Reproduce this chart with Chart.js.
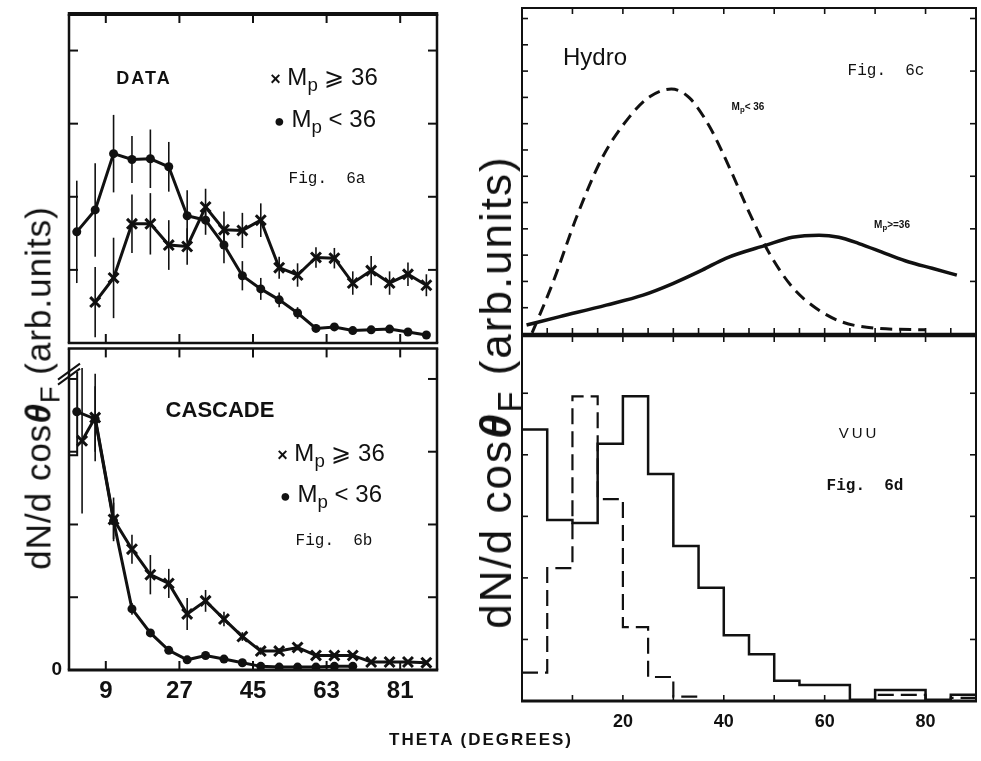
<!DOCTYPE html>
<html><head><meta charset="utf-8">
<script src="https://cdn.jsdelivr.net/npm/chart.js@4.4.1/dist/chart.umd.min.js"></script>
<style>
body{margin:0;background:#fff;width:981px;height:761px;position:relative;overflow:hidden;font-family:'Liberation Sans',Arial,sans-serif;color:#111}
canvas{position:absolute}
.t{position:absolute;white-space:pre;line-height:1;transform:translate(-50%,-50%);z-index:5}
sub{font-size:0.78em;vertical-align:-0.32em;line-height:0}
</style></head><body>
<canvas id="cA" width="450" height="350" style="left:0;top:0"></canvas>
<canvas id="cB" width="450" height="390" style="left:0;top:330px"></canvas>
<canvas id="cC" width="481" height="345" style="left:500px;top:0"></canvas>
<canvas id="cD" width="481" height="436" style="left:500px;top:325px"></canvas>

<div class="t" style="left:38px;top:388px;transform:translate(-50%,-50%) rotate(-90deg);font-size:35px;letter-spacing:1px">dN/d cos<b><i>θ</i></b><sub>F</sub> (arb.units)</div>
<div class="t" style="left:496px;top:392px;transform:translate(-50%,-50%) rotate(-90deg);font-size:44px;letter-spacing:2px">dN/d cos<b><i>θ</i></b><sub>F</sub> (arb.units)</div>

<div class="t" style="left:144px;top:78px;font-weight:bold;font-size:18px;letter-spacing:2px">DATA</div>
<div class="t" style="left:324px;top:77px;font-size:24px"><b style="font-size:18px">×</b> M<sub>p</sub> ⩾ 36</div>
<div class="t" style="left:325px;top:119px;font-size:24px"><span style="font-size:18px">●</span> M<sub>p</sub> &lt; 36</div>
<div class="t" style="left:327px;top:179px;font-family:'Liberation Mono',monospace;font-size:16px">Fig.  6a</div>

<div class="t" style="left:220px;top:410px;font-weight:bold;font-size:22px">CASCADE</div>
<div class="t" style="left:331px;top:453px;font-size:24px"><b style="font-size:18px">×</b> M<sub>p</sub> ⩾ 36</div>
<div class="t" style="left:331px;top:494px;font-size:24px"><span style="font-size:18px">●</span> M<sub>p</sub> &lt; 36</div>
<div class="t" style="left:334px;top:541px;font-family:'Liberation Mono',monospace;font-size:16px">Fig.  6b</div>

<div class="t" style="left:595px;top:57px;font-size:24px">Hydro</div>
<div class="t" style="left:886px;top:71px;font-family:'Liberation Mono',monospace;font-size:16px">Fig.  6c</div>
<div class="t" style="left:748px;top:107px;font-weight:bold;font-size:10px">M<sub>p</sub>&lt; 36</div>
<div class="t" style="left:892px;top:225px;font-weight:bold;font-size:10px">M<sub>p</sub>&gt;=36</div>

<div class="t" style="left:859px;top:432px;font-size:15px;letter-spacing:3px">VUU</div>
<div class="t" style="left:865px;top:486px;font-family:'Liberation Mono',monospace;font-size:16px;font-weight:bold">Fig.  6d</div>

<div class="t" style="left:481px;top:739px;font-weight:bold;font-size:17px;letter-spacing:2px">THETA (DEGREES)</div>

<script>
// ---------------- DATA ----------------
const leftTicks = [9, 27, 45, 63, 81];
const rightTicks = [20, 40, 60, 80];

// Fig 6a (DATA)
const thetaA = [1.9,6.4,10.9,15.4,19.9,24.4,28.9,33.4,37.9,42.4,46.9,51.4,55.9,60.4,64.9,69.4,73.9,78.4,82.9,87.4];
const dataLow = [1.52,1.82,2.59,2.51,2.52,2.41,1.74,1.68,1.34,0.92,0.74,0.59,0.41,0.20,0.22,0.17,0.18,0.19,0.15,0.11];
const dataLowErr = [0.70,0.64,0.53,0.32,0.40,0.34,0.35,0.20,0.25,0.20,0.15,0.10,0.08,0.05,0.05,0.05,0.05,0.05,0.05,0.05];
const thetaAHigh = [6.4,10.9,15.4,19.9,24.4,28.9,33.4,37.9,42.4,46.9,51.4,55.9,60.4,64.9,69.4,73.9,78.4,82.9,87.4];
const dataHigh = [0.56,0.89,1.63,1.63,1.34,1.32,1.86,1.55,1.54,1.68,1.03,0.93,1.17,1.16,0.82,0.99,0.82,0.94,0.79];
const dataHighErr = [0.48,0.55,0.40,0.42,0.34,0.25,0.25,0.25,0.24,0.23,0.15,0.16,0.14,0.14,0.16,0.20,0.16,0.16,0.15];

// Fig 6b (CASCADE)
const thetaBLow = [1.9,6.4,10.9,15.4,19.9,24.4,28.9,33.4,37.9,42.4,46.9,51.4,55.9,60.4,64.9,69.4];
const cascLow = [3.55,3.45,2.05,0.84,0.51,0.27,0.14,0.20,0.15,0.10,0.05,0.04,0.04,0.04,0.05,0.05];
const cascLowErr = [0,0.45,0.25,0.08,0.05,0.03,0.02,0.02,0.02,0.02,0.02,0.02,0.02,0.02,0.02,0.02];
const thetaBHigh = [3.2,6.4,10.9,15.4,19.9,24.4,28.9,33.4,37.9,42.4,46.9,51.4,55.9,60.4,64.9,69.4,73.9,78.4,82.9,87.4];
const cascHigh = [3.15,3.47,2.07,1.66,1.31,1.19,0.77,0.95,0.70,0.46,0.26,0.26,0.31,0.20,0.20,0.20,0.11,0.11,0.11,0.10];
const cascHighErr = [1.0,0.60,0.30,0.20,0.27,0.20,0.22,0.15,0.10,0.06,0.05,0.04,0.04,0.03,0.03,0.03,0.03,0.03,0.03,0.03];
const offscaleX = [0, 2, 2];
const offscaleY = [2.95, 2.95, 4.1];

// Fig 6c (Hydro)
const hydroHighX = [0.9,7.5,16.7,24,29.9,35.8,40.4,48.4,53.6,58.9,62.8,66.8,72.1,76.7,81.3,86.2];
const hydroHigh = [0.17,0.33,0.55,0.74,0.96,1.22,1.44,1.69,1.84,1.88,1.84,1.72,1.53,1.37,1.25,1.12];
const hydroLowX = [2,6.1,10.8,16,21.3,25.3,29.6,33.2,37.2,41.1,45.1,49,53.6,58.3,63.4,70.2,80];
const hydroLow = [0.02,0.97,2.22,3.37,4.13,4.51,4.66,4.49,3.94,3.17,2.30,1.54,0.89,0.49,0.23,0.11,0.08];

// Fig 6d (VUU) histograms, 5-degree bins
const binEdges = [0,5,10,15,20,25,30,35,40,45,50,55,60,65,70,75,80,85,90];
const vuuHigh = [4.41,2.94,2.89,4.18,4.95,3.69,2.52,1.84,1.07,0.76,0.33,0.26,0.26,0.02,0.18,0.18,0.02,0.10];
const vuuLow = [0.46,2.16,4.95,3.28,1.20,0.39,0.07,0,0,0,0,0,0,0,0.10,0.10,0,0.05];

// ---------------- HELPERS ----------------
Chart.defaults.animation = false;
Chart.defaults.color = '#111';
Chart.defaults.font.family = "'Liberation Sans', Arial, sans-serif";
const INK = '#111';
const pts = (xs, ys) => xs.map((x, i) => ({x, y: ys[i]}));
const hist = (edges, vals) => edges.map((e, i) => ({x: e, y: vals[Math.min(i, vals.length - 1)]}));

function framePlugin(cfg) {
  return {
    id: 'frame',
    afterDatasetsDraw(chart) {
      const {ctx, chartArea: a} = chart;
      const xs = chart.scales.x, ys = chart.scales.y;
      ctx.save();
      ctx.strokeStyle = INK;
      const seg = (x1, y1, x2, y2, w) => { ctx.lineWidth = w; ctx.beginPath(); ctx.moveTo(x1, y1); ctx.lineTo(x2, y2); ctx.stroke(); };
      const b = cfg.border;
      seg(a.left - b.l / 2, a.top, a.right + b.r / 2, a.top, b.t);
      seg(a.left - b.l / 2, a.bottom, a.right + b.r / 2, a.bottom, b.b);
      seg(a.left, a.top, a.left, a.bottom, b.l);
      seg(a.right, a.top, a.right, a.bottom, b.r);
      (cfg.xTop || []).forEach(v => { const p = xs.getPixelForValue(v); seg(p, a.top, p, a.top + cfg.tl, cfg.tw); });
      (cfg.xBottom || []).forEach(v => { const p = xs.getPixelForValue(v); seg(p, a.bottom, p, a.bottom - cfg.tl, cfg.tw); });
      (cfg.yLeft || []).forEach(v => { const p = ys.getPixelForValue(v); seg(a.left, p, a.left + cfg.tl, p, cfg.tw); });
      (cfg.yRight || []).forEach(v => { const p = ys.getPixelForValue(v); seg(a.right, p, a.right - cfg.tl, p, cfg.tw); });
      if (cfg.breakAt !== undefined) {
        const y = ys.getPixelForValue(cfg.breakAt), x = a.left;
        ctx.lineWidth = 2;
        [0, 5].forEach(d => { ctx.beginPath(); ctx.moveTo(x - 11, y + 8 + d); ctx.lineTo(x + 11, y - 8 + d); ctx.stroke(); });
      }
      ctx.restore();
    }
  };
}
function errPlugin(list) {
  return {
    id: 'errbars',
    afterDatasetsDraw(chart) {
      const {ctx} = chart; const ys = chart.scales.y;
      ctx.save(); ctx.strokeStyle = INK; ctx.lineWidth = 1.6;
      list.forEach(({ds, err}) => {
        const meta = chart.getDatasetMeta(ds);
        const data = chart.data.datasets[ds].data;
        meta.data.forEach((el, i) => {
          const e = err[i]; if (!e) return;
          const v = data[i].y;
          ctx.beginPath();
          ctx.moveTo(el.x, ys.getPixelForValue(v + e));
          ctx.lineTo(el.x, ys.getPixelForValue(Math.max(0, v - e)));
          ctx.stroke();
        });
      });
      ctx.restore();
    }
  };
}
const hiddenAxis = (min, max) => ({type: 'linear', min, max, display: false});
const baseOpts = (padding, scales) => ({
  responsive: false, animation: false,
  layout: {padding, autoPadding: false},
  plugins: {legend: {display: false}, tooltip: {enabled: false}},
  scales
});
const crossDs = (data) => ({data, borderColor: INK, borderWidth: 3, pointStyle: 'crossRot', pointRadius: 7, pointBorderWidth: 3, pointBorderColor: INK, pointBackgroundColor: INK, tension: 0});
const dotDs = (data) => ({data, borderColor: INK, borderWidth: 3, pointStyle: 'circle', pointRadius: 4.5, pointBorderWidth: 0, pointBackgroundColor: INK, tension: 0});

// ---------------- FIG 6a ----------------
new Chart(document.getElementById('cA'), {
  type: 'line',
  data: {datasets: [dotDs(pts(thetaA, dataLow)), crossDs(pts(thetaAHigh, dataHigh))]},
  options: baseOpts({left: 69, top: 14, right: 13, bottom: 7}, {x: hiddenAxis(0, 90), y: hiddenAxis(0, 4.5)}),
  plugins: [errPlugin([{ds: 0, err: dataLowErr}, {ds: 1, err: dataHighErr}]),
            framePlugin({border: {t: 4, b: 2.5, l: 2.5, r: 2.5}, tl: 9, tw: 2, xTop: leftTicks, xBottom: leftTicks, yLeft: [1, 2, 3, 4], yRight: [1, 2, 3, 4]})]
});

// ---------------- FIG 6b ----------------
new Chart(document.getElementById('cB'), {
  type: 'line',
  data: {datasets: [dotDs(pts(thetaBLow, cascLow)), crossDs(pts(thetaBHigh, cascHigh)),
    {data: pts(offscaleX, offscaleY), borderColor: INK, borderWidth: 2, pointRadius: 0, tension: 0}]},
  options: baseOpts({left: 0, top: 13, right: 13, bottom: 0}, {
    x: {type: 'linear', min: 0, max: 90, position: 'bottom',
        grid: {display: false, drawTicks: false}, border: {display: false},
        afterBuildTicks: s => { s.ticks = leftTicks.map(v => ({value: v})); },
        afterFit: s => { s.height = 50; },
        ticks: {padding: 7, autoSkip: false, maxRotation: 0, font: {size: 24, weight: 'bold'}, color: INK, callback: v => String(v)}},
    y: {type: 'linear', min: 0, max: 4.42, position: 'left',
        grid: {display: false, drawTicks: false}, border: {display: false},
        afterBuildTicks: s => { s.ticks = [{value: 0}]; },
        afterFit: s => { s.width = 69; },
        ticks: {padding: 7, font: {size: 19, weight: 'bold'}, color: INK, callback: v => String(v)}}
  }),
  plugins: [errPlugin([{ds: 0, err: cascLowErr}, {ds: 1, err: cascHighErr}]),
            framePlugin({border: {t: 2.5, b: 3, l: 2.5, r: 2.5}, tl: 9, tw: 2, xTop: leftTicks, xBottom: leftTicks, yLeft: [1, 2, 3, 4], yRight: [1, 2, 3, 4], breakAt: 4.1})]
});

// ---------------- FIG 6c ----------------
new Chart(document.getElementById('cC'), {
  type: 'line',
  data: {datasets: [
    {data: pts(hydroLowX, hydroLow), borderColor: INK, borderWidth: 3, borderDash: [12, 7], pointRadius: 0, cubicInterpolationMode: 'monotone'},
    {data: pts(hydroHighX, hydroHigh), borderColor: INK, borderWidth: 3.5, pointRadius: 0, cubicInterpolationMode: 'monotone'}]},
  options: baseOpts({left: 22, top: 8, right: 5, bottom: 11}, {x: hiddenAxis(0, 90), y: hiddenAxis(0, 6.2)}),
  plugins: [framePlugin({border: {t: 2, b: 2.5, l: 2, r: 2}, tl: 6, tw: 1.6,
    xTop: [10, 20, 30, 40, 50, 60, 70, 80],
    xBottom: [5, 10, 15, 20, 25, 30, 35, 40, 45, 50, 55, 60, 65, 70, 75, 80, 85],
    yLeft: [0.5, 1, 1.5, 2, 2.5, 3, 3.5, 4, 4.5, 5, 5.5, 6], yRight: [1, 2, 3, 4, 5, 6]})]
});

// ---------------- FIG 6d ----------------
new Chart(document.getElementById('cD'), {
  type: 'line',
  data: {datasets: [
    {data: hist(binEdges, vuuLow), borderColor: INK, borderWidth: 2.2, borderDash: [16, 7], pointRadius: 0, stepped: 'before'},
    {data: hist(binEdges, vuuHigh), borderColor: INK, borderWidth: 2.5, pointRadius: 0, stepped: 'before'}]},
  options: baseOpts({left: 22, top: 11, right: 5, bottom: 0}, {
    x: {type: 'linear', min: 0, max: 90, position: 'bottom',
        grid: {display: false, drawTicks: false}, border: {display: false},
        afterBuildTicks: s => { s.ticks = rightTicks.map(v => ({value: v})); },
        afterFit: s => { s.height = 60; },
        ticks: {padding: 10, autoSkip: false, maxRotation: 0, font: {size: 18, weight: 'bold'}, color: INK, callback: v => String(v)}},
    y: hiddenAxis(0, 5.93)
  }),
  plugins: [framePlugin({border: {t: 2.5, b: 3, l: 2, r: 2}, tl: 6, tw: 1.6,
    xBottom: [10, 20, 30, 40, 50, 60, 70, 80], xTop: [10, 20, 30, 40, 50, 60, 70, 80],
    yLeft: [1, 2, 3, 4, 5], yRight: [1, 2, 3, 4, 5]})]
});
</script>
</body></html>
